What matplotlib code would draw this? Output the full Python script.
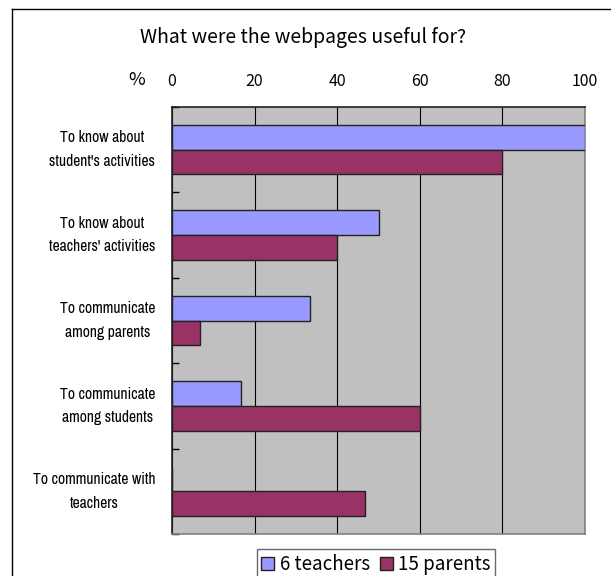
import numpy as np
import matplotlib.pyplot as plt
from matplotlib import font_manager
from matplotlib.font_manager import FontProperties
from matplotlib.lines import Line2D

categorias = ["To know about\nstudent's activities",
              "To know about\nteachers' activities",
              "To communicate\namong parents",
              "To communicate\namong students",
              "To communicate with\nteachers"]
profesores = [100, 50, 33.3, 16.7, 0]
padres = [80, 40, 6.7, 60, 46.7]
ticks_x = [0, 20, 40, 60, 80, 100]

fuente_jp = ["Noto Sans CJK JP", "DejaVu Sans"]

# buscar una fuente estrecha (Arial Narrow en el original)
orden = {"condensed": 0, "semi-condensed": 1, "extra-condensed": 2, "ultra-condensed": 3}
estrechas = [f for f in font_manager.fontManager.ttflist
             if ("Narrow" in f.name or f.stretch in orden)
             and f.weight in (400, "normal", "regular") and f.style == "normal"]
estrechas.sort(key=lambda f: (0 if "Narrow" in f.name else 1, orden.get(f.stretch, 0)))
if estrechas:
    prop_cat = FontProperties(fname=estrechas[0].fname, size=11)
else:
    prop_cat = FontProperties(family="Liberation Sans", size=11)

fig = plt.figure(figsize=(6.11, 5.76), dpi=100)

# ajustar el tamaño para que "student's activities" mida ~106 px como en el original
renderer = fig.canvas.get_renderer()
prueba = fig.text(0, 0, "student's activities", fontproperties=prop_cat)
ancho = prueba.get_window_extent(renderer).width
prueba.remove()
prop_cat.set_size(min(12.5, prop_cat.get_size() * 106 / ancho))
espaciado = 24 / (prop_cat.get_size() * 100 / 72 * 1.2) * 1.33

ax = fig.add_axes([172 / 611, 1 - 534 / 576, 413 / 611, 427 / 576])

# marco exterior del gráfico (cortado a la derecha y abajo)
fig.add_artist(Line2D([12 / 611, 1.0], [1 - 9 / 576] * 2, color="black", lw=1))
fig.add_artist(Line2D([12 / 611] * 2, [0.0, 1 - 9 / 576], color="black", lw=1))

y = np.arange(len(categorias))
alto = 0.29
ax.barh(y - alto / 2, profesores, height=alto, color="#9999FF",
        edgecolor="#222222", lw=1, label="6 teachers", zorder=3)
ax.barh(y + alto / 2, padres, height=alto, color="#993366",
        edgecolor="#222222", lw=1, label="15 parents", zorder=3)

ax.set_facecolor("#C0C0C0")
ax.set_xlim(0, 100)
ax.set_ylim(len(categorias) - 0.5, -0.5)
ax.xaxis.tick_top()
ax.set_xticks(ticks_x)
ax.set_xticklabels([str(t) for t in ticks_x], family=fuente_jp, fontsize=11.5)
ax.tick_params(axis="x", length=0, pad=12)
ax.grid(axis="x", color="black", lw=0.8, zorder=1)

ax.set_yticks(y)
ax.set_yticklabels(categorias, fontproperties=prop_cat, va="center",
                   multialignment="center", linespacing=espaciado)
ax.tick_params(axis="y", length=0, pad=12)
# marcas pequeñas entre categorías
ax.set_yticks(np.arange(len(categorias) + 1) - 0.5, minor=True)
ax.tick_params(axis="y", which="minor", length=5, direction="in", width=1)

for lado in ["left", "top"]:
    ax.spines[lado].set_color("#222222")
    ax.spines[lado].set_linewidth(1.2)
for lado in ["right", "bottom"]:
    ax.spines[lado].set_color("#808080")
    ax.spines[lado].set_linewidth(1.2)

fig.text(303 / 611, 1 - 38 / 576, "What were the webpages useful for?",
         ha="center", va="center", family=fuente_jp, fontsize=14)
fig.text(137 / 611, 1 - 80 / 576, "%", ha="center", va="center",
         family=fuente_jp, fontsize=13)

ley = fig.legend(loc="upper center", bbox_to_anchor=(376 / 611, 1 - 549 / 576),
                 ncol=2, prop={"family": fuente_jp, "size": 13.5},
                 frameon=True, fancybox=False, edgecolor="#444444",
                 handlelength=0.7, handleheight=0.7, handletextpad=0.3,
                 columnspacing=0.5, borderpad=0.25, borderaxespad=0)
ley.get_frame().set_linewidth(1)

fig.savefig("out.png", dpi=100)
